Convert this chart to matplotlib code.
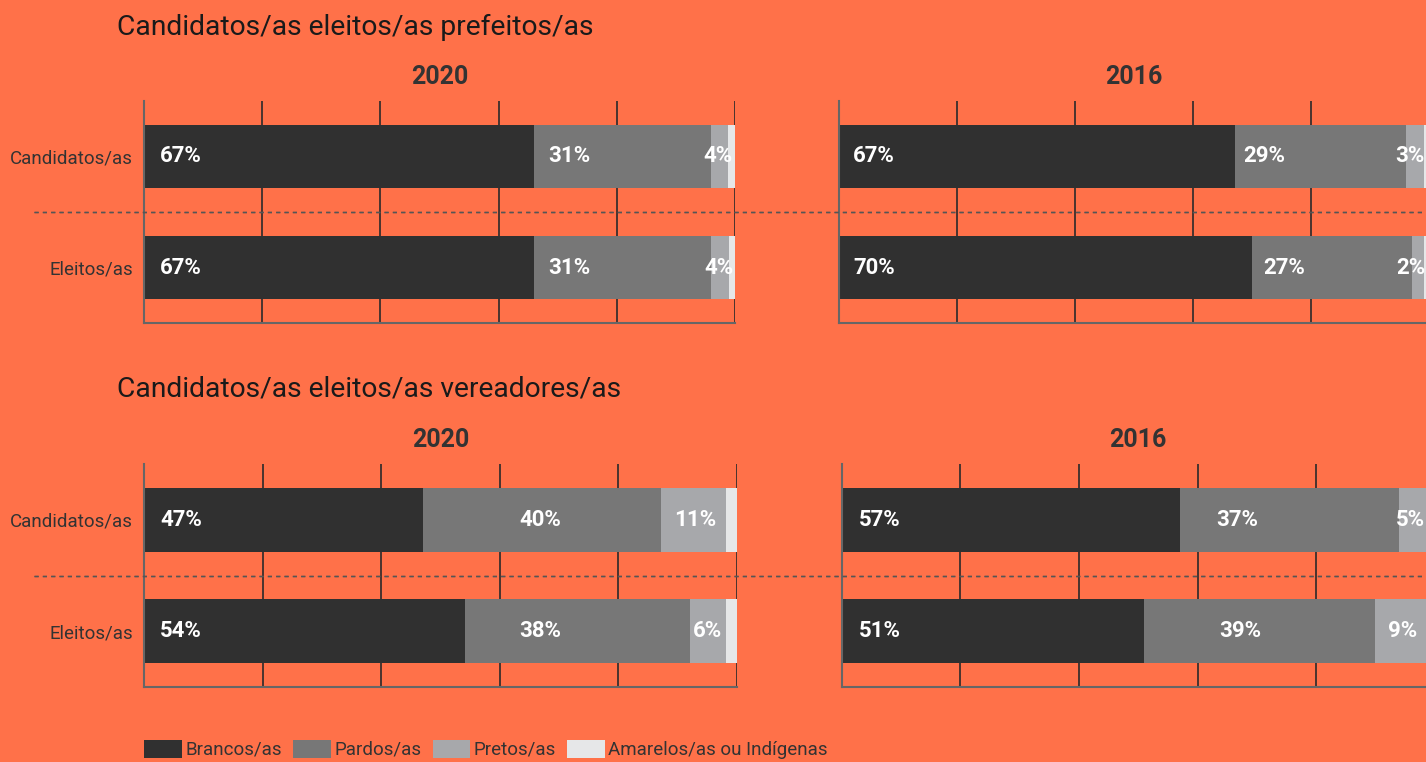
import matplotlib.pyplot as plt
from matplotlib.patches import Patch
from matplotlib.lines import Line2D
import matplotlib.transforms as mtransforms

plt.rcParams['font.family'] = ['Roboto', 'DejaVu Sans']

fundo = '#FF7149'
cores = ['#303030', '#777777', '#A7A8AB', '#E6E7E8']
grupos = ['Brancos/as', 'Pardos/as', 'Pretos/as', 'Amarelos/as ou Indígenas']
linhas = ['Candidatos/as', 'Eleitos/as']

# percentagens (largura das barras), linha 0 = candidatos/as, linha 1 = eleitos/as
pref_2020 = [[66.0, 29.9, 3.0, 1.1], [66.0, 29.9, 3.1, 1.0]]
pref_2016 = [[67.1, 28.9, 3.0, 1.0], [69.9, 27.1, 2.0, 1.0]]
ver_2020 = [[47.0, 40.2, 10.9, 1.9], [54.1, 38.0, 6.0, 1.9]]
ver_2016 = [[57.0, 36.9, 5.2, 0.9], [50.9, 39.0, 9.0, 1.1]]

# rótulos das barras
rot_pref_2020 = [['67%', '31%', '4%'], ['67%', '31%', '4%']]
rot_pref_2016 = [['67%', '29%', '3%'], ['70%', '27%', '2%']]
rot_ver_2020 = [['47%', '40%', '11%'], ['54%', '38%', '6%']]
rot_ver_2016 = [['57%', '37%', '5%'], ['51%', '39%', '9%']]

# posição dos rótulos no eixo x [%]
pos_pref_2020 = [[2.7, 71.9, 97.1], [2.7, 71.9, 97.3]]
pos_pref_2016 = [[2.5, 72.1, 96.7], [2.5, 75.4, 96.8]]
pos_ver_2020 = [[2.7, 66.8, 93.0], [2.7, 66.8, 95.1]]
pos_ver_2016 = [[2.9, 66.7, 95.9], [2.9, 67.2, 94.6]]

W, H = 1426, 762
fig = plt.figure(figsize=(W / 100, H / 100), dpi=100)
fig.patch.set_facecolor(fundo)


def painel(x0, y_top, y_bot, largura, ano, valores, rotulos, pos):
    ax = fig.add_axes([x0 / W, 1 - y_bot / H, largura / W, (y_bot - y_top) / H])
    ax.set_facecolor('none')
    for i, linha in enumerate(valores):
        esq = 0
        for j, v in enumerate(linha):
            ax.barh(i, v, left=esq, height=0.57, color=cores[j], zorder=2)
            esq += v
        for k, r in enumerate(rotulos[i]):
            ax.text(pos[i][k], i, r, ha='left' if k == 0 else 'center', va='center',
                    color='white', fontsize=16, fontweight='bold', zorder=3)
    ax.set_xlim(0, 100)
    ax.set_ylim(1.5, -0.5)
    ax.set_xticks(range(0, 101, 20))
    ax.set_axisbelow(True)
    ax.grid(axis='x', color='#2a2a2a', lw=1.2)
    ax.set_yticks([0, 1])
    ax.set_yticklabels(linhas, fontsize=13.5, color='#333333')
    ax.tick_params(length=0, labelbottom=False, pad=8)
    for s in ['top', 'right']:
        ax.spines[s].set_visible(False)
    for s in ['left', 'bottom']:
        ax.spines[s].set_color('#666666')
        ax.spines[s].set_linewidth(1.5)
    ax.text(0.5, 1.108, ano, transform=ax.transAxes, ha='center', va='center',
            fontsize=18, fontweight='bold', color='#333333')
    # linha tracejada entre candidatos e eleitos
    tr = mtransforms.blended_transform_factory(fig.transFigure, ax.transData)
    fig.add_artist(Line2D([34 / W, 1], [0.5, 0.5], transform=tr, color='#555555',
                          lw=1, dashes=(3, 3)))
    return ax


painel(144, 101, 323, 591, '2020', pref_2020, rot_pref_2020, pos_pref_2020)
ax2 = painel(838.6, 101, 323, 591, '2016', pref_2016, rot_pref_2016, pos_pref_2016)
ax2.set_yticklabels([])
painel(144, 464, 687, 593, '2020', ver_2020, rot_ver_2020, pos_ver_2020)
ax4 = painel(841.7, 464, 687, 593, '2016', ver_2016, rot_ver_2016, pos_ver_2016)
ax4.set_yticklabels([])

fig.text(117 / W, 1 - 27 / H, 'Candidatos/as eleitos/as prefeitos/as', fontsize=20.3,
         color='#1a1a1a', va='center', ha='left')
fig.text(117 / W, 1 - 389 / H, 'Candidatos/as eleitos/as vereadores/as', fontsize=20.3,
         color='#1a1a1a', va='center', ha='left')

handles = [Patch(facecolor=c, edgecolor='none', label=g) for c, g in zip(cores, grupos)]
leg = fig.legend(handles=handles, loc='lower left', bbox_to_anchor=(144 / W, 3 / H),
                 ncol=4, frameon=False, fontsize=13.5, handlelength=2.0, handleheight=1.1,
                 handletextpad=0.2, columnspacing=0.6, borderpad=0, borderaxespad=0)
for t in leg.get_texts():
    t.set_color('#333333')

fig.savefig('out.png', dpi=100, facecolor=fundo)
